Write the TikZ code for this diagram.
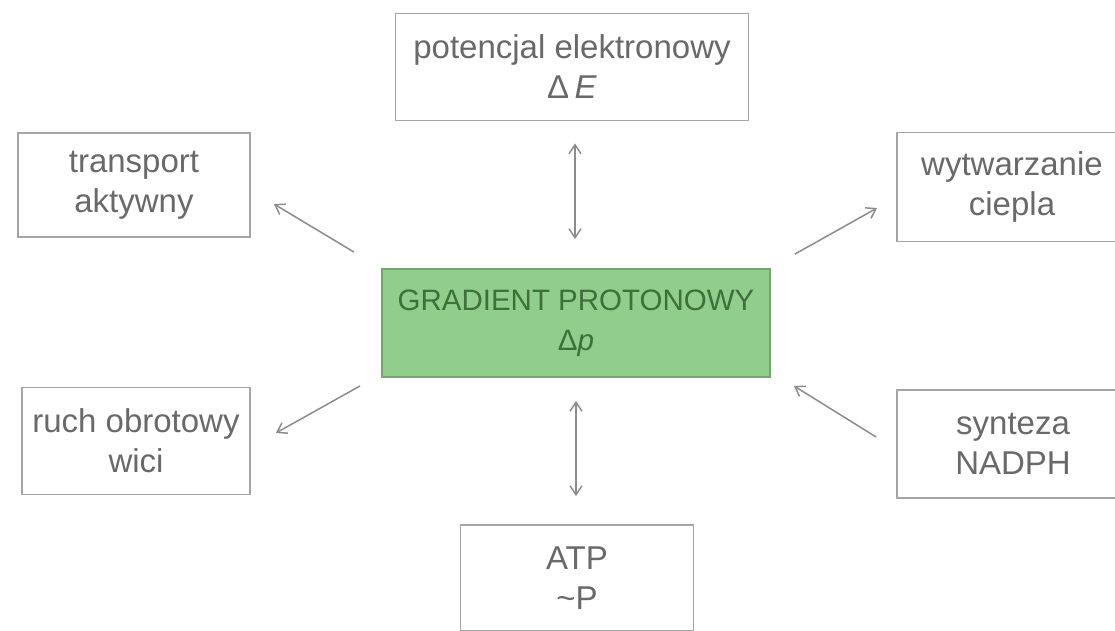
\documentclass[tikz,border=0pt]{standalone}
\usepackage{fontspec}
\setmainfont{Liberation Sans}
\usetikzlibrary{arrows.meta}
\definecolor{boxline}{RGB}{165,165,165}
\definecolor{txt}{RGB}{105,105,105}
\definecolor{gfill}{RGB}{146,206,139}
\definecolor{gline}{RGB}{118,165,112}
\definecolor{gtxt}{RGB}{62,112,58}
\definecolor{arrcol}{RGB}{140,140,140}
\tikzset{
  infobox/.style={draw=boxline, line width=1.8pt, fill=white, align=center,
    text=txt, font=\fontsize{33}{40}\selectfont, inner sep=0pt},
  corebox/.style={infobox, draw=gline, fill=gfill, text=gtxt,
    font=\fontsize{29.5}{40}\selectfont},
  link/.style={draw=arrcol, line width=1.5pt,
    -{Straight Barb[length=9pt,width=12pt,line width=1.5pt]}},
  twoway/.style={link,
    {Straight Barb[length=9pt,width=12pt,line width=1.5pt]}-{Straight Barb[length=9pt,width=12pt,line width=1.5pt]}}
}
\newcommand{\Dl}{\char"0394}
\begin{document}
\begin{tikzpicture}[x=1pt,y=-1pt]
\useasboundingbox (0,0) rectangle (1115,631);

% central box and the six processes around it
\node[corebox, minimum width=388pt, minimum height=108pt] (grad) at (576,323)
  {GRADIENT PROTONOWY\\\Dl\textit{p}};
\node[infobox, minimum width=353pt, minimum height=107pt] (pot) at (572,67)
  {potencjal elektronowy\\\Dl\,\textit{E}};
\node[infobox, minimum width=232pt, minimum height=104pt] (trans) at (134,185)
  {transport\\aktywny};
\node[infobox, minimum width=228pt, minimum height=107pt] (ruch) at (136,441)
  {ruch obrotowy\\wici};
\node[infobox, minimum width=230pt, minimum height=109pt] (ciep) at (1012,187)
  {wytwarzanie\\ciepla};
\node[infobox, minimum width=232pt, minimum height=108pt] (nadph) at (1013,444)
  {synteza\\NADPH};
\node[infobox, minimum width=233pt, minimum height=106pt] (atp) at (577,578)
  {ATP\\\char"007EP};

% arrow ends, set a little away from the boxes
\coordinate (potA) at ([shift={(3pt,-22pt)}]pot.south);
\coordinate (potB) at ([yshift=29pt]grad.north -| potA);
\coordinate (atpA) at ([yshift=-23pt]grad.south);
\coordinate (atpB) at ([yshift=28pt]atp.north -| atpA);
\coordinate (trA) at ([shift={(-27pt,16pt)}]grad.north west);
\coordinate (trB) at ([shift={(23pt,-19pt)}]trans.east);
\coordinate (ruA) at ([shift={(-21pt,-8pt)}]grad.south west);
\coordinate (ruB) at ([shift={(25pt,8pt)}]ruch.east);
\coordinate (ciA) at ([shift={(24pt,14pt)}]grad.north east);
\coordinate (ciB) at ([shift={(-19pt,-21pt)}]ciep.west);
\coordinate (naA) at ([shift={(-20pt,7pt)}]nadph.west);
\coordinate (naB) at ([shift={(23pt,-8pt)}]grad.south east);

\draw[twoway] (potA) -- (potB);
\draw[twoway] (atpA) -- (atpB);
\draw[link] (trA) -- (trB);
\draw[link] (ruA) -- (ruB);
\draw[link] (ciA) -- (ciB);
\draw[link] (naA) -- (naB);
\end{tikzpicture}
\end{document}
